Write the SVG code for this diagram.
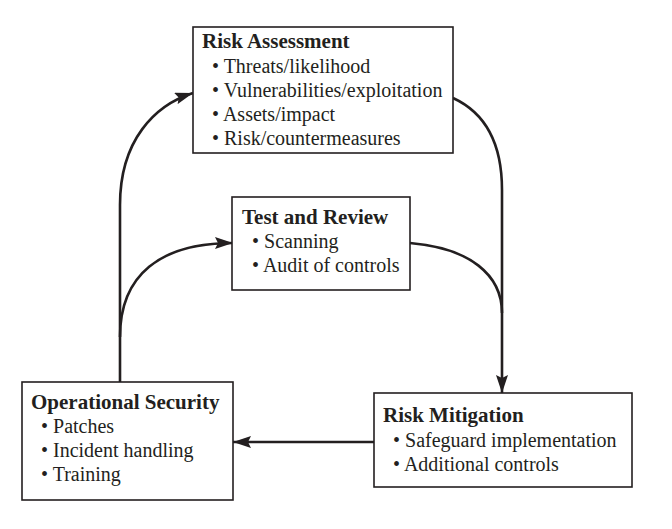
<svg xmlns="http://www.w3.org/2000/svg" width="672" height="529" viewBox="0 0 672 529">
<style>
.box{fill:#fff;stroke:#231f20;stroke-width:1.6}
.t{font-family:"Liberation Serif","Times New Roman",serif;font-size:20px;fill:#231f20}
.h{font-weight:bold;font-size:21px}
.c{fill:none;stroke:#231f20;stroke-width:2.6}
</style>
<defs>
<marker id="ah" markerUnits="userSpaceOnUse" markerWidth="20" markerHeight="12" refX="18" refY="6" orient="auto">
<path d="M0,0 L18,6 L0,12 L3,6 z" fill="#231f20"/>
</marker>
</defs>
<rect width="672" height="529" fill="#fff"/>
<g id="connectors">
<path class="c" d="M120,382 V205 C120,140 155,105 193,93" marker-end="url(#ah)"/>
<path class="c" d="M120,337 C120,275 160,243 233,243" marker-end="url(#ah)"/>
<path class="c" d="M453,98 C490,115 502,150 502,190 V393" marker-end="url(#ah)"/>
<path class="c" d="M410,243 C470,248 502,275 502,313"/>
<path class="c" d="M374,442 H233" marker-end="url(#ah)"/>
</g>
<g id="risk-assessment">
<rect class="box" x="193" y="27" width="260" height="126"/>
<text class="t h" x="202" y="48">Risk Assessment</text>
<text class="t" x="212" y="73">• Threats/likelihood</text>
<text class="t" x="212" y="97">• Vulnerabilities/exploitation</text>
<text class="t" x="212" y="121">• Assets/impact</text>
<text class="t" x="212" y="145">• Risk/countermeasures</text>
</g>
<g id="test-review">
<rect class="box" x="232" y="197" width="178" height="93"/>
<text class="t h" x="242" y="224">Test and Review</text>
<text class="t" x="252" y="248">• Scanning</text>
<text class="t" x="252" y="272">• Audit of controls</text>
</g>
<g id="operational-security">
<rect class="box" x="22" y="382" width="211" height="118"/>
<text class="t h" x="31" y="409">Operational Security</text>
<text class="t" x="41" y="433">• Patches</text>
<text class="t" x="41" y="457">• Incident handling</text>
<text class="t" x="41" y="481">• Training</text>
</g>
<g id="risk-mitigation">
<rect class="box" x="374" y="393" width="258" height="94"/>
<text class="t h" x="383" y="422">Risk Mitigation</text>
<text class="t" x="393" y="447">• Safeguard implementation</text>
<text class="t" x="393" y="471">• Additional controls</text>
</g>
</svg>
